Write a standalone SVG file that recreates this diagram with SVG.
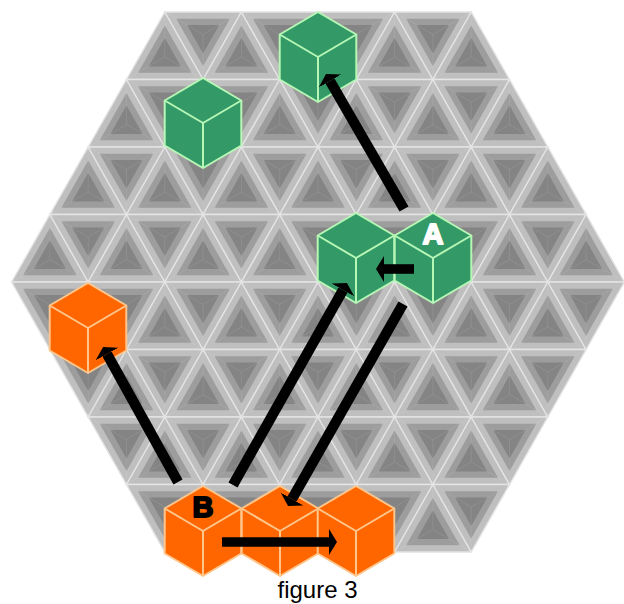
<svg xmlns="http://www.w3.org/2000/svg" width="624" height="604" viewBox="0 0 624 604">
<style>
.o{fill:#bfbfbf;stroke:#e4e4e4;stroke-width:1.4}
.m{fill:#9d9d9d}
.i{fill:#848484}
.r{fill:none;stroke:#fff;stroke-opacity:.13;stroke-width:.7}
.gc{fill:#339966;stroke:#b6f7b6;stroke-width:2;stroke-linejoin:round}
.oc{fill:#ff6600;stroke:#ffc68c;stroke-width:2;stroke-linejoin:round}
.ed{fill:none}
.arr{stroke:#000;stroke-width:9.6;fill:none;marker-end:url(#head)}
.diag{stroke-width:10.4}
.lab{font-family:"Liberation Sans",Arial,sans-serif;font-weight:bold;font-size:29px;text-anchor:middle;stroke-width:2;stroke-linejoin:round}
</style>
<defs>
<marker id="head" markerUnits="userSpaceOnUse" markerWidth="9" markerHeight="28" refX="0" refY="14" orient="auto"><path d="M0 1L8 14L0 27Z" fill="#000"/></marker>
<g id="up">
<polygon class="o" points="0,0 -38.3,67.5 38.3,67.5"/>
<polygon class="m" points="0,13.5 -26.8,60.75 26.8,60.75"/>
<polygon class="i" points="0,26.1 -16.1,54.45 16.1,54.45"/>
<path class="r" d="M0 0V45M-38.3 67.5L0 45L38.3 67.5"/>
</g>
<g id="dn">
<polygon class="o" points="0,0 76.6,0 38.3,67.5"/>
<polygon class="m" points="11.5,6.75 65.1,6.75 38.3,54"/>
<polygon class="i" points="22.2,13.05 54.4,13.05 38.3,41.4"/>
<path class="r" d="M0 0L38.3 22.5L76.6 0M38.3 22.5V67.5"/>
</g>
<g id="p"><use href="#up"/><use href="#dn"/></g>
<g id="p2"><use href="#p"/><use href="#p" x="76.6"/></g>
<g id="p4"><use href="#p2"/><use href="#p2" x="153.2"/></g>
<g id="cube">
<path d="M0 0L38.3 22.5V67.5L0 90L-38.3 67.5V22.5Z"/>
<path class="ed" d="M-38.3 22.5L0 45L38.3 22.5M0 45V90"/>
</g>
</defs>
<g id="board">
<use href="#p4" x="164.8" y="12"/><use href="#up" x="471.2" y="12"/>
<use href="#p4" x="126.5" y="79.5"/><use href="#p" x="432.9" y="79.5"/><use href="#up" x="509.5" y="79.5"/>
<use href="#p4" x="88.2" y="147"/><use href="#p2" x="394.6" y="147"/><use href="#up" x="547.8" y="147"/>
<use href="#p4" x="49.9" y="214.5"/><use href="#p2" x="356.3" y="214.5"/><use href="#p" x="509.5" y="214.5"/><use href="#up" x="586.1" y="214.5"/>
<use href="#dn" x="11.6" y="282"/><use href="#p4" x="88.2" y="282"/><use href="#p2" x="394.6" y="282"/><use href="#p" x="547.8" y="282"/>
<use href="#dn" x="49.9" y="349.5"/><use href="#p4" x="126.5" y="349.5"/><use href="#p2" x="432.9" y="349.5"/>
<use href="#dn" x="88.2" y="417"/><use href="#p4" x="164.8" y="417"/><use href="#p" x="471.2" y="417"/>
<use href="#dn" x="126.5" y="484.5"/><use href="#p4" x="203.1" y="484.5"/>
</g>
<g id="cube-green-top"><use href="#cube" class="gc" x="318" y="12"/></g>
<g id="cube-green-upper"><use href="#cube" class="gc" x="203" y="78"/></g>
<g id="cube-green-mid"><use href="#cube" class="gc" x="356" y="213"/></g>
<g id="cube-a"><use href="#cube" class="gc" x="433" y="213"/><text class="lab" x="433" y="244" fill="#fff" stroke="#fff">A</text></g>
<g id="cube-orange-left"><use href="#cube" class="oc" x="88" y="283"/></g>
<g id="cube-b"><use href="#cube" class="oc" x="203" y="486"/><text class="lab" x="203" y="517" fill="#000" stroke="#000">B</text></g>
<g id="cube-orange-mid"><use href="#cube" class="oc" x="280" y="486"/></g>
<g id="cube-orange-right"><use href="#cube" class="oc" x="356" y="486"/></g>
<g id="connectors">
<line class="arr diag" x1="404" y1="209" x2="330" y2="81"/>
<line class="arr" x1="414" y1="269" x2="384" y2="269"/>
<line class="arr diag" x1="233" y1="485" x2="343" y2="290"/>
<line class="arr diag" x1="403" y1="304" x2="292" y2="499"/>
<line class="arr diag" x1="178" y1="482" x2="107" y2="354"/>
<line class="arr" x1="222" y1="542" x2="329" y2="542"/>
</g>
<text x="317.5" y="598" font-family="'Liberation Sans',Arial,sans-serif" font-size="24" text-anchor="middle" fill="#000">figure 3</text>
</svg>
